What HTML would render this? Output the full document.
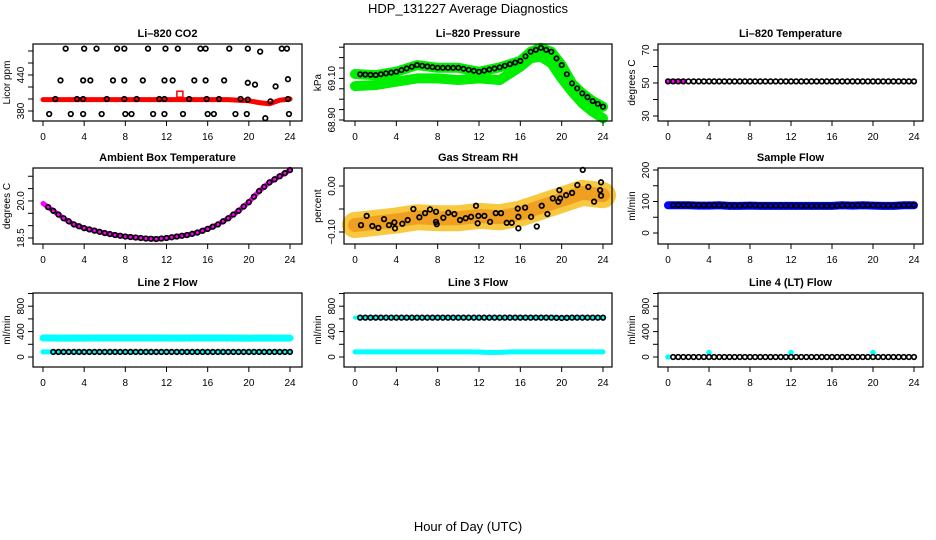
<!DOCTYPE html>
<html><head><meta charset="utf-8"><style>
body{margin:0;background:#fff;width:936px;height:540px;overflow:hidden}
svg{display:block;font-family:"Liberation Sans",sans-serif}
</style></head><body>
<svg id="c" width="936" height="540" viewBox="0 0 936 540">
<text x="468" y="13" font-size="13" text-anchor="middle">HDP_131227  Average Diagnostics</text>
<text x="468" y="531" font-size="13" text-anchor="middle">Hour of Day (UTC)</text>
</svg>
<script>
const HOURS=[0,0.5,1,1.5,2,2.5,3,3.5,4,4.5,5,5.5,6,6.5,7,7.5,8,8.5,9,9.5,10,10.5,11,11.5,12,12.5,13,13.5,14,14.5,15,15.5,16,16.5,17,17.5,18,18.5,19,19.5,20,20.5,21,21.5,22,22.5,23,23.5,24];
const HOURLY=[0,1,2,3,4,5,6,7,8,9,10,11,12,13,14,15,16,17,18,19,20,21,22,23,24];
const BIHOURLY=[0,2,4,6,8,10,12,14,16,17,18,19,20,21,22,23,24];
const XTICKS=[0,4,8,12,16,20,24];
// CO2
const CO2_RED=[399,399,399,399,399,399,399,399,399,399,399,399,399,399,399,399,399,399,399,398,397,394,392,398,400];
const CO2_PTS_H=[2.2,4.0,5.2,7.2,7.9,10.2,11.9,13.1,15.3,15.8,18.1,19.9,21.1,23.2,23.7,1.7,3.9,4.6,6.8,7.9,9.7,11.8,12.6,14.7,15.8,17.6,19.9,20.6,22.6,23.8,0.6,2.7,3.9,5.7,8.0,8.6,10.7,11.8,13.6,16.0,16.6,18.7,19.8,21.6,23.9,1.2,3.3,3.9,6.2,7.9,9.1,11.3,11.8,14.2,15.9,17.1,19.2,19.9,22.1,23.8];
const CO2_PTS_V=[484,484,484,484,484,484,484,484,484,484,484,484,479,484,484,431,431,431,431,431,431,431,431,431,431,431,427,424,421,433,375,375,375,375,375,375,375,375,375,375,375,375,375,368,375,400,400,400,400,400,400,400,400,400,400,400,400,399,396,400];
// Pressure
const P_UPPER=[69.121,69.116,69.132,69.164,69.151,69.151,69.132,69.153,69.184,69.228,69.247,69.228,69.164,69.076,69.028,68.991,68.964];
const P_LOWER=[69.063,69.068,69.084,69.100,69.100,69.092,69.100,69.092,69.156,69.197,69.204,69.173,69.100,69.036,68.980,68.940,68.908];
// Li-820 temperature
const T820=[51,51,51,51,51,51,51,51,51,51,51,51,51,51,51,51,51,51,51,51,51,51,51,51,51];
// Ambient
const AMB=[19.9,19.6,19.3,19.05,18.9,18.8,18.7,18.62,18.56,18.52,18.48,18.46,18.5,18.56,18.62,18.72,18.87,19.05,19.3,19.6,19.95,20.4,20.75,21.0,21.25];
// RH
const RH_BAND_H=[0,2,4,6,8,10,12,14,16,18,20,22,24];
const RH_BAND=[-0.085,-0.08,-0.075,-0.068,-0.07,-0.07,-0.065,-0.068,-0.06,-0.045,-0.03,-0.015,-0.02];
const RH_H=[0.58,1.13,1.68,2.26,2.81,3.29,3.81,3.87,4.58,5.10,5.65,6.23,6.78,7.26,7.84,7.84,7.91,8.55,9.03,9.61,10.16,10.71,11.23,11.71,11.87,11.94,12.52,13.07,13.62,14.13,14.68,15.17,15.75,15.81,15.81,16.46,17.04,17.59,18.07,18.62,19.14,19.68,19.78,19.85,20.43,21.01,21.52,22.04,22.58,23.14,23.72,23.81,23.81];
const RH_V=[-0.085,-0.065,-0.087,-0.091,-0.072,-0.085,-0.079,-0.092,-0.082,-0.074,-0.050,-0.068,-0.059,-0.051,-0.056,-0.078,-0.083,-0.069,-0.058,-0.061,-0.074,-0.070,-0.067,-0.043,-0.081,-0.065,-0.065,-0.078,-0.059,-0.059,-0.080,-0.080,-0.049,-0.092,-0.067,-0.047,-0.067,-0.088,-0.043,-0.061,-0.027,-0.034,-0.009,-0.027,-0.020,-0.015,0.002,0.035,-0.002,-0.034,-0.009,0.008,-0.021];
// Flows (hourly)
const SAMPLE_BLUE=[88,88,88,87,87,88,86,86,87,86,86,86,86,86,86,86,86,88,87,88,87,86,86,88,88];
const SAMPLE_BLACK=[88,89,89,88,88,88,87,87,88,87,87,87,87,86,86,86,86,88,88,88,88,87,87,88,89];
const L2_HIGH=[300,300,298,300,298,300,300,300,300,300,300,300,300,298,300,300,300,300,300,298,295,298,300,298,298];
const L2_LOW=[80,80,80,80,80,80,80,80,80,80,80,80,80,80,80,80,80,80,80,80,80,80,80,80,80];
const L3_HIGH=[620,620,620,620,620,620,620,620,620,620,620,620,620,620,620,620,620,620,620,620,615,620,620,620,620];
const L3_LOW=[80,80,80,80,80,80,80,80,80,80,80,80,78,70,72,80,80,80,80,80,80,80,80,80,80];
const L4_CYAN=[0,0,0,0,70,0,0,0,0,0,0,0,70,0,0,0,0,0,0,0,70,0,0,0,0];
const L4_BLACK=[0,0,0,0,0,0,0,0,0,0,0,0,0,0,0,0,0,0,0,0,0,0,0,0,0];

const svg=document.getElementById('c');
const NS='http://www.w3.org/2000/svg';
function mk(tag,attrs,parent){const e=document.createElementNS(NS,tag);for(const k in attrs)e.setAttribute(k,attrs[k]);(parent||svg).appendChild(e);return e;}
function interp(hs,vs,h){for(let i=0;i<hs.length-1;i++){if(h>=hs[i]&&h<=hs[i+1]){const t=(h-hs[i])/(hs[i+1]-hs[i]);return vs[i]+t*(vs[i+1]-vs[i]);}}return vs[vs.length-1];}

function panel(cfg){
  const g=mk('g',{});
  
  
  const X=h=>cfg.hx0+h*(cfg.hx24-cfg.hx0)/24;
  const Y=v=>cfg.yRef-(v-cfg.vRef)*cfg.k;
  cfg.draw(g,X,Y);
  const box=mk('rect',{x:cfg.l,y:cfg.t,width:cfg.r-cfg.l,height:cfg.b-cfg.t,fill:'none',stroke:'#000','stroke-width':1.2},g);
  
  
  const tt=mk('text',{x:(cfg.l+cfg.r)/2,y:cfg.t-7,'font-size':11,'font-weight':'bold','text-anchor':'middle'},g);
  tt.textContent=cfg.title;
  
  
  XTICKS.forEach(h=>{
    mk('line',{x1:X(h),x2:X(h),y1:cfg.b,y2:cfg.b+5,stroke:'#000'},g);
    const t=mk('text',{x:X(h),y:cfg.b+19,'font-size':10,'text-anchor':'middle'},g);
    t.textContent=h;
    
    
  });
  cfg.yticks.forEach(v=>{
    const y=Y(v);
    mk('line',{x1:cfg.l-5,x2:cfg.l,y1:y,y2:y,stroke:'#000'},g);
  });
  cfg.ylabels.forEach(([v,s])=>{
    const y=Y(v);
    const t=mk('text',{x:cfg.l-9,y:y,'font-size':10,'text-anchor':'middle',transform:`rotate(-90 ${cfg.l-9} ${y})`},g);
    t.textContent=s;
    
    
  });
  const cy=(cfg.t+cfg.b)/2;
  const yt=mk('text',{x:cfg.l-23,y:cy,'font-size':10,'text-anchor':'middle',transform:`rotate(-90 ${cfg.l-23} ${cy})`},g);
  yt.textContent=cfg.ylab;
  
  
}
function line(g,X,Y,hs,vs,color,w,name){
  const p=mk('polyline',{points:hs.map((h,i)=>X(h)+','+Y(vs[i])).join(' '),fill:'none',stroke:color,'stroke-width':w,'stroke-linejoin':'round','stroke-linecap':'round'},g);
  
  
}
function circles(g,X,Y,hs,vs,color,name,r){
  hs.forEach((h,i)=>{
    const c=mk('circle',{cx:X(h),cy:Y(vs[i]),r:r||2.3,fill:'none',stroke:color,'stroke-width':1.7},g);
    
    
  });
}
function halfHour(arr){return HOURS.map(h=>interp(HOURLY,arr,h));}

const C1={l:33,r:302,hx0:43,hx24:290},C2={l:344,r:612,hx0:355,hx24:603},C3={l:658,r:923,hx0:668,hx24:914};
const R1={t:44,b:121},R2={t:168,b:244},R3={t:293,b:367};

panel({...C1,...R1,name:'panel-co2',title:'Li\u2013820 CO2',ylab:'Licor ppm',yRef:111,vRef:380,k:0.6,
  yticks:[380,400,420,440,460,480],ylabels:[[380,'380'],[440,'440']],
  draw(g,X,Y){line(g,X,Y,HOURLY,CO2_RED,'#ff0000',5,'co2-red-series');
    mk('rect',{x:X(13.3)-3,y:Y(408)-3,width:6,height:6,fill:'none',stroke:'#ff0000','stroke-width':1.5},g);
    circles(g,X,Y,CO2_PTS_H,CO2_PTS_V,'#000','co2-point');}});
panel({...C2,...R1,name:'panel-pressure',title:'Li\u2013820 Pressure',ylab:'kPa',yRef:120,vRef:68.90,k:208,
  yticks:[68.90,68.95,69.00,69.05,69.10,69.15,69.20,69.25],ylabels:[[68.90,'68.90'],[69.10,'69.10']],
  draw(g,X,Y){line(g,X,Y,BIHOURLY,P_LOWER,'#00ee00',10,'pressure-lower-band');
    line(g,X,Y,BIHOURLY,P_UPPER,'#00ee00',10,'pressure-upper-band');
    const hs=HOURS.filter(h=>h>0);
    circles(g,X,Y,hs,hs.map(h=>interp(BIHOURLY,P_UPPER,h)),'#000','pressure-point',2.2);}});
panel({...C3,...R1,name:'panel-li820-temperature',title:'Li\u2013820 Temperature',ylab:'degrees C',yRef:116,vRef:30,k:1.65,
  yticks:[30,40,50,60,70],ylabels:[[30,'30'],[50,'50'],[70,'70']],
  draw(g,X,Y){line(g,X,Y,[0,1.5],[51,51],'#ff00ff',5,'temp-magenta');
    circles(g,X,Y,HOURS,halfHour(T820),'#000','temp-point');}});
panel({...C1,...R2,name:'panel-ambient',title:'Ambient Box Temperature',ylab:'degrees C',yRef:238,vRef:18.5,k:24.7,
  yticks:[18.5,19.0,19.5,20.0,20.5,21.0],ylabels:[[18.5,'18.5'],[20.0,'20.0']],
  draw(g,X,Y){line(g,X,Y,HOURLY,AMB,'#ff00ff',5,'ambient-magenta');
    circles(g,X,Y,HOURS.filter(h=>h>0),halfHour(AMB).slice(1),'#000','ambient-point');}});
panel({...C2,...R2,name:'panel-rh',title:'Gas Stream RH',ylab:'percent',yRef:186,vRef:0,k:460,
  yticks:[-0.10,-0.05,0.00],ylabels:[[-0.10,'\u22120.10'],[0,'0.00']],
  draw(g,X,Y){line(g,X,Y,RH_BAND_H,RH_BAND,'#f8c840',26,'rh-band');
    line(g,X,Y,RH_BAND_H,RH_BAND,'#f0a020',14,'rh-band-core');
    circles(g,X,Y,RH_H,RH_V,'#000','rh-point');}});
panel({...C3,...R2,name:'panel-sample-flow',title:'Sample Flow',ylab:'ml/min',yRef:233,vRef:0,k:0.315,
  yticks:[0,50,100,150,200],ylabels:[[0,'0'],[100,'100'],[200,'200']],
  draw(g,X,Y){line(g,X,Y,HOURLY,SAMPLE_BLUE,'#0000ff',8,'sample-blue');
    circles(g,X,Y,HOURS.filter(h=>h>0),halfHour(SAMPLE_BLACK).slice(1),'#000','sample-point');}});
const FL={yRef:357,vRef:0,k:0.0635,yticks:[0,200,400,600,800,1000],ylabels:[[0,'0'],[400,'400'],[800,'800']],ylab:'ml/min'};
panel({...C1,...R3,...FL,name:'panel-line2',title:'Line 2 Flow',
  draw(g,X,Y){line(g,X,Y,HOURLY,L2_HIGH,'#00ffff',7,'line2-high');
    line(g,X,Y,HOURLY,L2_LOW,'#00ffff',5,'line2-low');
    circles(g,X,Y,HOURS.filter(h=>h>=1),halfHour(L2_LOW).slice(2),'#000','line2-point');}});
panel({...C2,...R3,...FL,name:'panel-line3',title:'Line 3 Flow',
  draw(g,X,Y){line(g,X,Y,HOURLY,L3_LOW,'#00ffff',5,'line3-low');
    line(g,X,Y,HOURLY,L3_HIGH,'#00ffff',4,'line3-high');
    circles(g,X,Y,HOURS.filter(h=>h>0),halfHour(L3_HIGH).slice(1),'#000','line3-point');}});
panel({...C3,...R3,...FL,name:'panel-line4',title:'Line 4 (LT) Flow',
  draw(g,X,Y){HOURLY.forEach((h,i)=>{if(L4_CYAN[i]>0||h===0){const c=mk('circle',{cx:X(h),cy:Y(L4_CYAN[i]),r:2.8,fill:'#00ffff'},g);
      
      }});
    circles(g,X,Y,HOURS.filter(h=>h>0),halfHour(L4_BLACK).slice(1),'#000','line4-point');}});
</script>
</body></html>
